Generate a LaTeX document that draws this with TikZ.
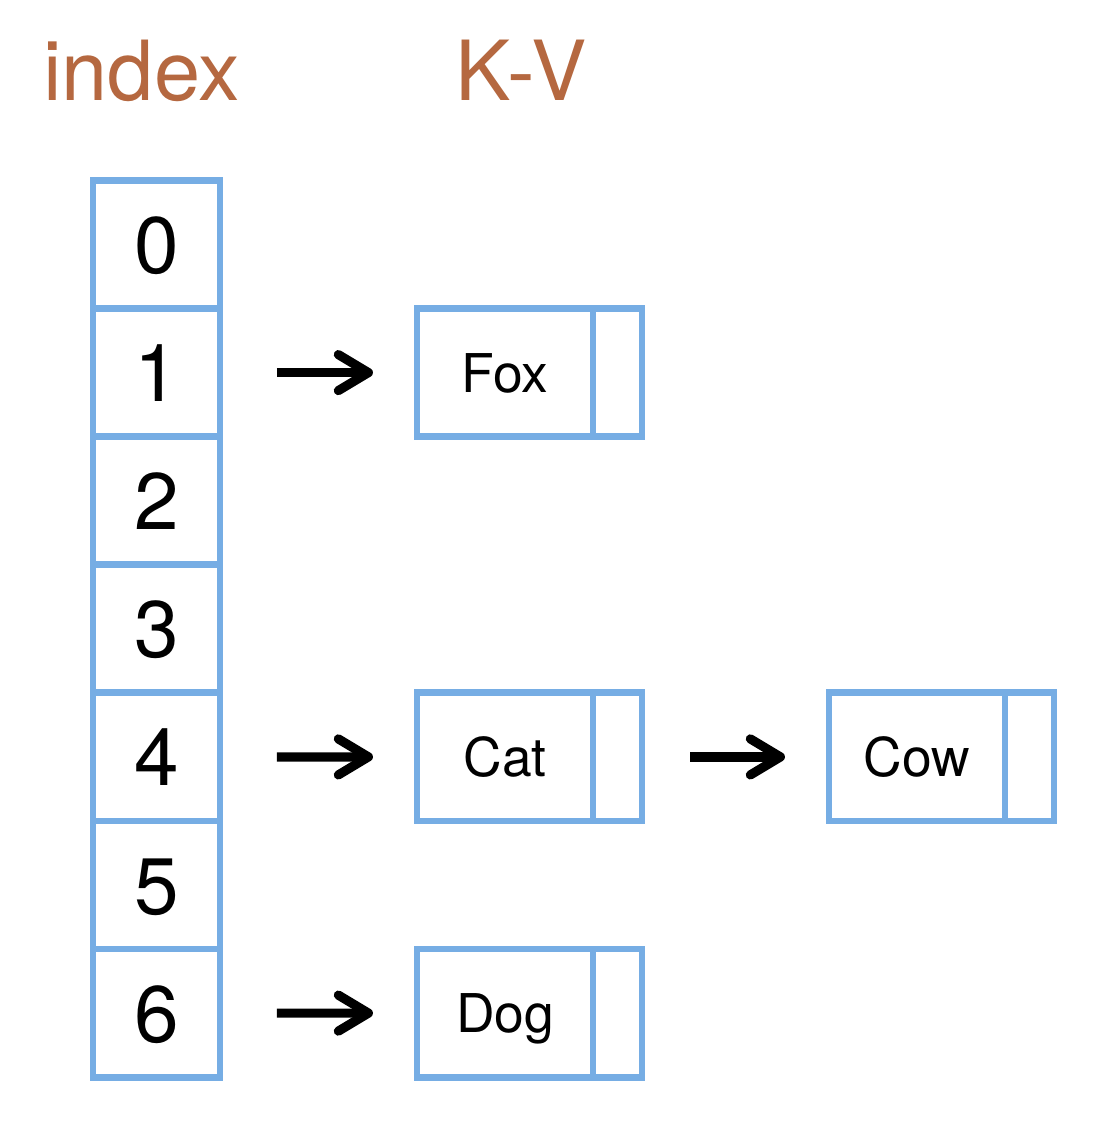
\documentclass[tikz,border=0pt]{standalone}
\usepackage{fontspec}
\setmainfont{TeX Gyre Heros}
\usetikzlibrary{arrows.meta}
\definecolor{cellblue}{RGB}{118,173,228}
\definecolor{titlebrown}{RGB}{181,104,64}
\begin{document}
\begin{tikzpicture}[x=0.025cm,y=-0.025cm,
  box/.style={draw=cellblue, line width=0.17cm, inner sep=0pt, outer sep=0pt, minimum height=3.2cm},
  cell/.style={box, minimum width=3.175cm, text height=1.45cm, text depth=0cm, font=\fontsize{57}{60}\selectfont},
  keybox/.style={box, minimum width=4.4cm, text height=0.97cm, text depth=0cm, font=\fontsize{38}{40}\selectfont},
  ptrbox/.style={box, minimum width=1.225cm, anchor=west},
  link/.style={line width=0.23cm, -{Straight Barb[length=0.75cm,width=0.9cm,line cap=round,line join=round]}, shorten <=1.42cm, shorten >=1.1cm},
  title/.style={text=titlebrown, font=\fontsize{59}{64}\selectfont, anchor=base, inner sep=0pt}
]
\useasboundingbox (0,0) rectangle (1112,1122);
\node[title] (tindex) at (141.5,101) {index};
\node[title] (tkv) at (521,101) {K-V};
\foreach \i in {0,...,6}{
  \node[cell] (i\i) at (156.5,{244.5+\i*128.1}) {\i};
}
\node[keybox] (fox) at (505,372.6) {Fox};
\node[ptrbox] (foxp) at (fox.east) {};
\node[keybox] (cat) at (505,756.9) {Cat};
\node[ptrbox] (catp) at (cat.east) {};
\node[keybox] (cow) at (917,756.9) {Cow};
\node[ptrbox] (cowp) at (cow.east) {};
\node[keybox] (dog) at (505,1013.1) {Dog};
\node[ptrbox] (dogp) at (dog.east) {};
\draw[link] (i1.east) -- (fox.west);
\draw[link] (i4.east) -- (cat.west);
\draw[link] (i6.east) -- (dog.west);
\draw[link, shorten <=1.2cm] (catp.east) -- (cow.west);
\end{tikzpicture}
\end{document}
